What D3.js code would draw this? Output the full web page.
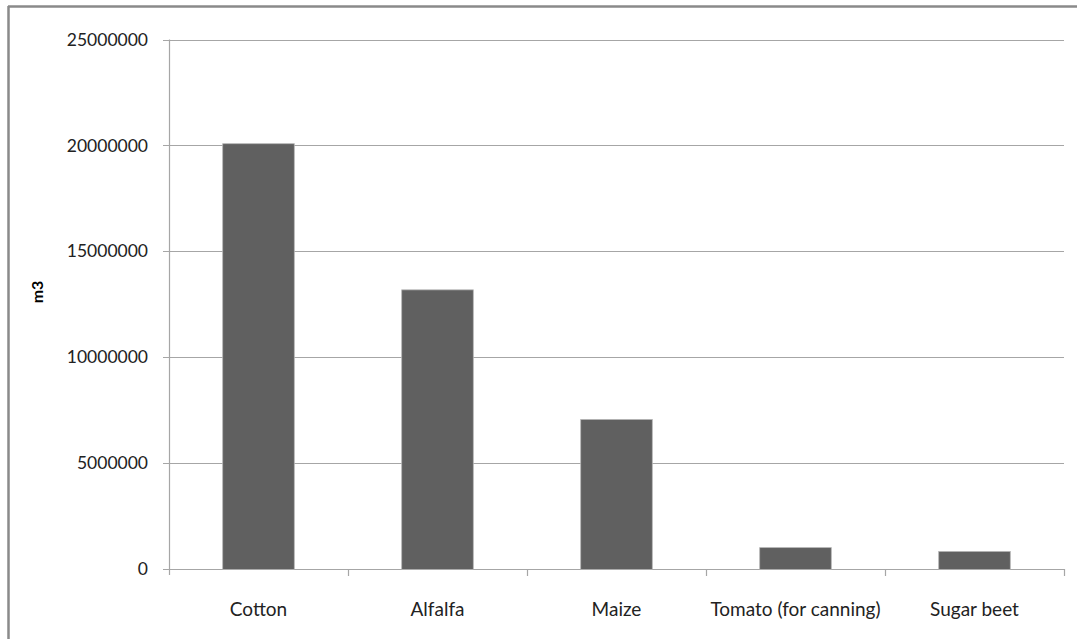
<!DOCTYPE html>
<html><head><meta charset="utf-8">
<script src="https://cdn.jsdelivr.net/npm/d3@7"></script>
<style>body{margin:0;background:#fff}svg{display:block}</style>
</head><body>
<script>
const categories = ["Cotton","Alfalfa","Maize","Tomato (for canning)","Sugar beet"];
const values = [20080000, 13180000, 7060000, 1010000, 830000];
const yTicks = [0,5000000,10000000,15000000,20000000,25000000];
const yLabel = "m3";

(function(){
const W=1077,H=639;
const svg=d3.select("body").append("svg").attr("width",W).attr("height",H);
const font="Lato, 'Open Sans', sans-serif";

// outer frame (top and left)
svg.append("line").attr("x1",8).attr("x2",W).attr("y1",6.5).attr("y2",6.5).attr("stroke","#8a8a8a").attr("stroke-width",2.5);
svg.append("line").attr("x1",8.5).attr("x2",8.5).attr("y1",6).attr("y2",H).attr("stroke","#8a8a8a").attr("stroke-width",2.5);

const pLeft=169, pRight=1064, pTop=39.5, pBottom=569;
const x=d3.scaleBand().domain(categories).range([pLeft,pRight]).paddingInner(0).paddingOuter(0);
const y=d3.scaleLinear().domain([0,25000000]).range([pBottom,pTop]);

// gridlines
svg.append("g").selectAll("line").data(yTicks).join("line")
  .attr("x1",pLeft-6).attr("x2",pRight).attr("y1",d=>Math.round(y(d))+0.5).attr("y2",d=>Math.round(y(d))+0.5)
  .attr("stroke","#a6a6a6").attr("stroke-width",1.2);

// y axis line
svg.append("line").attr("x1",pLeft+0.5).attr("x2",pLeft+0.5).attr("y1",pTop).attr("y2",pBottom+6).attr("stroke","#a6a6a6").attr("stroke-width",1.2);

// category ticks
svg.append("g").selectAll("line").data(categories).join("line")
  .attr("x1",d=>Math.round(x(d)+x.bandwidth())+0.5).attr("x2",d=>Math.round(x(d)+x.bandwidth())+0.5)
  .attr("y1",pBottom).attr("y2",pBottom+7).attr("stroke","#a6a6a6").attr("stroke-width",1.2);

// bars
const bw=x.bandwidth()*0.4;
svg.append("g").selectAll("rect").data(categories).join("rect")
  .attr("x",d=>x(d)+x.bandwidth()/2-bw/2).attr("width",bw)
  .attr("y",(d,i)=>y(values[i])).attr("height",(d,i)=>pBottom+0.5-y(values[i]))
  .attr("fill","#606060").attr("stroke","#b5b5b5").attr("stroke-width",0.8);

// y tick labels
svg.append("g").selectAll("text").data(yTicks).join("text")
  .attr("x",148).attr("y",d=>y(d)).attr("dy","0.35em").attr("text-anchor","end")
  .attr("font-family",font).attr("font-size",17.5).attr("fill","#222").text(d=>d3.format("d")(d));

// x labels
svg.append("g").selectAll("text").data(categories).join("text")
  .attr("x",d=>x(d)+x.bandwidth()/2).attr("y",609).attr("dy","0.35em").attr("text-anchor","middle")
  .attr("font-family",font).attr("font-size",19).attr("fill","#222").text(d=>d);

// y axis title
svg.append("text").attr("transform","translate(37,292) rotate(-90)").attr("text-anchor","middle").attr("dy","0.35em")
  .attr("font-family",font).attr("font-size",16).attr("font-weight","bold").attr("fill","#000").text(yLabel);
})();
</script>
</body></html>
